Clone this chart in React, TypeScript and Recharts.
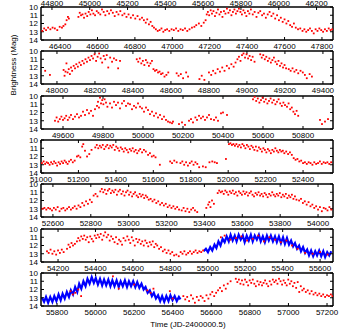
import { ComposedChart, Scatter, Line, XAxis, YAxis } from 'recharts';

// x ranges (JD-2400000.5) of each panel
const panelDomains: [number, number][] = [
  [46298, 47859],
  [47916, 49453],
  [49490, 50950],
  [51000, 52560],
  [52537, 54079],
  [54109, 55669],
  [55717, 57231],
];
// extra labelled axis above the first panel
const firstTopDomain: [number, number] = [44742, 46287];

const topRowTicks = [44800, 45000, 45200, 45400, 45600, 45800, 46000, 46200];
const panelTicks = [
  [46400, 46600, 46800, 47000, 47200, 47400, 47600, 47800],
  [48000, 48200, 48400, 48600, 48800, 49000, 49200, 49400],
  [49600, 49800, 50000, 50200, 50400, 50600, 50800],
  [51000, 51200, 51400, 51600, 51800, 52000, 52200, 52400],
  [52600, 52800, 53000, 53200, 53400, 53600, 53800, 54000],
  [54200, 54400, 54600, 54800, 55000, 55200, 55400, 55600],
  [55800, 56000, 56200, 56400, 56600, 56800, 57000, 57200],
];
const magTicks = [10, 11, 12, 13, 14];

// [JD, mag] ground-based photometry (red)
const p1Red = [
  [46305, 12.9], [46315, 12.6], [46325, 12.8], [46336, 12.5], [46348, 12.7], [46360, 12.5], [46372, 12.6], [46385, 12.8],
  [46398, 12.4], [46410, 12.5], [46418, 12.3], [46428, 12.1], [46435, 11.6], [46442, 11.2], [46447, 11.4],
  [46498, 11.2], [46505, 10.7], [46512, 11.0], [46520, 10.9], [46528, 11.3], [46536, 10.8], [46545, 11.1], [46553, 10.6],
  [46562, 10.9], [46570, 10.4], [46578, 10.8], [46587, 11.0], [46596, 10.5], [46605, 10.7], [46615, 10.9], [46624, 10.3],
  [46633, 10.6], [46642, 11.0], [46652, 10.5], [46662, 10.8], [46672, 10.4], [46682, 10.7], [46692, 11.1], [46702, 10.6],
  [46712, 10.9], [46722, 10.5], [46733, 11.0], [46744, 10.8], [46755, 11.2], [46766, 10.9], [46778, 11.3], [46790, 11.0],
  [46802, 11.4], [46814, 11.1], [46826, 11.5], [46838, 11.3], [46848, 11.6], [46858, 11.9], [46866, 11.5], [46875, 12.1],
  [46884, 11.8], [46893, 12.3], [46902, 12.5], [46912, 12.7], [46922, 12.9], [46932, 12.8], [46942, 12.6], [46952, 13.0],
  [46962, 12.8], [46972, 12.7], [46984, 12.9], [46996, 12.7], [47008, 12.8], [47020, 12.6], [47032, 12.9], [47044, 12.7],
  [47056, 12.8], [47068, 12.6], [47080, 12.9], [47092, 12.7], [47105, 12.5], [47118, 12.4], [47128, 12.2], [47142, 12.0],
  [47155, 12.3], [47168, 11.9], [47178, 11.6], [47184, 10.9], [47190, 10.6], [47197, 11.0], [47205, 10.4], [47212, 10.8],
  [47220, 10.5], [47228, 11.1], [47236, 10.7], [47244, 10.3], [47252, 10.9], [47260, 10.6], [47268, 11.2], [47276, 10.5],
  [47284, 10.8], [47292, 10.2], [47300, 10.7], [47308, 10.4], [47316, 11.0], [47324, 10.6], [47332, 10.3], [47340, 10.8],
  [47348, 10.5], [47356, 10.2], [47364, 10.6], [47372, 10.9], [47380, 10.4], [47388, 10.7], [47396, 11.1], [47404, 10.5],
  [47412, 10.8], [47420, 10.3], [47430, 10.9], [47440, 10.6], [47450, 11.2], [47460, 10.7], [47470, 10.5], [47480, 11.0],
  [47490, 10.8], [47500, 11.3], [47510, 10.9], [47520, 10.6], [47530, 11.1], [47540, 10.8], [47550, 11.4], [47560, 11.0],
  [47570, 11.6], [47580, 11.3], [47590, 11.8], [47600, 11.5], [47610, 12.0], [47620, 11.7], [47630, 12.2], [47640, 12.4],
  [47650, 12.0], [47660, 12.5], [47672, 12.7], [47684, 12.6], [47696, 12.9], [47706, 12.7], [47716, 13.0], [47726, 12.8],
  [47736, 12.6], [47746, 12.9], [47756, 13.2], [47766, 12.7], [47776, 12.9], [47786, 12.6], [47796, 12.8], [47806, 13.0],
  [47816, 12.7], [47826, 12.9], [47836, 12.6], [47846, 12.8], [47855, 12.7],
];

const p2Red = [
  [47938, 12.4], [47963, 12.9], [48035, 12.3], [48040, 13.0], [48045, 12.5], [48050, 11.5], [48056, 12.6], [48062, 12.2],
  [48068, 12.8], [48074, 12.0], [48080, 12.4], [48088, 11.8], [48095, 12.1], [48102, 11.6], [48110, 11.9], [48118, 11.4],
  [48126, 11.7], [48134, 11.2], [48142, 11.5], [48150, 11.0], [48158, 11.3], [48166, 10.8], [48174, 11.1], [48182, 10.6],
  [48190, 10.9], [48198, 10.4], [48206, 11.2], [48214, 10.7], [48222, 10.3], [48230, 10.9], [48238, 11.4], [48246, 10.6],
  [48254, 11.0], [48262, 10.5], [48270, 12.0], [48280, 10.8], [48290, 11.3], [48300, 10.9], [48312, 11.1], [48322, 12.1],
  [48332, 11.2], [48420, 11.0], [48428, 11.3], [48436, 10.9], [48444, 11.5], [48452, 11.2], [48460, 11.7], [48468, 11.1],
  [48476, 11.4], [48484, 11.8], [48492, 11.5], [48500, 11.2], [48508, 12.2], [48516, 12.4], [48524, 12.3], [48532, 12.6],
  [48540, 12.5], [48548, 12.8], [48556, 12.7], [48566, 13.1], [48576, 12.9], [48586, 12.6], [48630, 12.7], [48640, 13.0],
  [48652, 12.8], [48664, 13.3], [48680, 12.6], [48690, 13.1], [48750, 13.4], [48762, 13.0], [48776, 13.5], [48800, 12.6],
  [48812, 12.9], [48822, 12.4], [48834, 12.7], [48846, 12.2], [48858, 12.5], [48870, 12.0], [48882, 12.4], [48894, 11.8],
  [48906, 12.1], [48918, 11.6], [48930, 11.9], [48940, 11.4], [48950, 11.0], [48958, 10.7], [48966, 11.2], [48974, 10.5],
  [48982, 10.3], [48990, 10.8], [48998, 10.4], [49006, 10.9], [49014, 10.6], [49022, 11.1], [49030, 10.7], [49040, 11.3],
  [49070, 10.4], [49078, 10.8], [49086, 10.5], [49094, 11.0], [49102, 10.7], [49110, 11.2], [49118, 10.9], [49126, 11.4],
  [49134, 11.1], [49142, 10.8], [49150, 11.3], [49158, 11.6], [49166, 11.2], [49174, 11.8], [49182, 11.5], [49190, 12.0],
  [49198, 11.7], [49206, 12.1], [49220, 12.2], [49230, 12.4], [49240, 12.1], [49250, 12.5], [49260, 12.3], [49270, 12.7],
  [49282, 12.4], [49294, 12.6], [49305, 12.9], [49315, 13.3], [49330, 12.8], [49342, 13.1],
];

const p3Red = [
  [49560, 13.0], [49568, 12.6], [49576, 13.1], [49584, 12.8], [49592, 12.5], [49600, 12.9], [49608, 12.7], [49616, 12.4],
  [49624, 12.9], [49632, 12.6], [49640, 12.3], [49650, 12.8], [49660, 12.5], [49670, 12.2], [49680, 12.6], [49690, 12.4],
  [49700, 11.9], [49710, 12.3], [49720, 11.7], [49730, 12.1], [49740, 11.8], [49750, 12.4], [49760, 11.6], [49770, 11.2],
  [49775, 10.7], [49780, 11.4], [49785, 10.2], [49790, 10.9], [49796, 10.5], [49802, 11.0], [49808, 10.4], [49815, 10.8],
  [49822, 11.3], [49835, 10.9], [49845, 11.4], [49855, 10.7], [49865, 11.1], [49875, 10.8], [49885, 11.5], [49895, 10.9],
  [49905, 10.6], [49915, 11.2], [49925, 10.9], [49935, 11.0], [49945, 11.6], [49955, 11.2], [49965, 11.4], [49975, 10.9],
  [49985, 11.3], [49995, 11.5], [50005, 11.9], [50015, 11.4], [50025, 11.7], [50035, 12.2], [50045, 11.9], [50055, 12.4],
  [50065, 12.1], [50075, 12.6], [50085, 12.3], [50095, 12.8], [50105, 12.5], [50115, 12.9], [50125, 13.1], [50135, 13.2],
  [50145, 13.3], [50150, 13.1], [50180, 13.4], [50195, 13.2], [50210, 13.5], [50230, 13.0], [50240, 12.8], [50250, 13.2],
  [50262, 12.6], [50270, 12.9], [50280, 12.4], [50290, 12.7], [50300, 12.5], [50310, 12.9], [50320, 12.6], [50330, 12.3],
  [50340, 12.8], [50355, 12.9], [50365, 12.6], [50375, 13.0], [50390, 12.1], [50400, 12.0], [50420, 12.3], [50550, 10.4],
  [50558, 10.1], [50566, 10.6], [50574, 10.3], [50582, 10.8], [50590, 10.5], [50598, 10.2], [50606, 10.7], [50614, 10.4],
  [50622, 10.9], [50630, 10.6], [50638, 10.3], [50646, 10.8], [50654, 10.5], [50662, 11.0], [50670, 10.7], [50678, 10.4],
  [50686, 10.9], [50694, 11.2], [50702, 10.8], [50710, 11.1], [50720, 11.3], [50728, 10.9], [50736, 11.6], [50744, 11.4],
  [50752, 11.9], [50760, 12.2], [50768, 11.8], [50776, 12.4], [50885, 12.9], [50895, 13.4], [50910, 13.1], [50925, 12.8],
];

const p4Red = [
  [51005, 12.8], [51014, 12.6], [51022, 12.9], [51030, 12.7], [51038, 12.8], [51046, 13.0], [51054, 12.7], [51062, 12.9],
  [51070, 12.6], [51078, 12.8], [51086, 13.1], [51094, 12.7], [51102, 12.9], [51110, 12.6], [51118, 12.8], [51126, 12.5],
  [51134, 12.7], [51142, 12.9], [51150, 12.6], [51160, 12.4], [51170, 12.7], [51180, 12.5], [51192, 12.0], [51200, 11.9],
  [51210, 12.1], [51220, 10.8], [51226, 10.5], [51235, 11.3], [51246, 12.0], [51258, 11.7], [51270, 11.2], [51290, 10.9],
  [51298, 10.6], [51306, 11.0], [51314, 10.7], [51322, 10.9], [51330, 10.6], [51338, 11.1], [51346, 10.8], [51354, 10.6],
  [51362, 11.0], [51370, 10.7], [51378, 10.9], [51386, 10.6], [51394, 11.2], [51402, 10.8], [51410, 11.0], [51418, 11.3],
  [51426, 10.9], [51434, 11.1], [51442, 11.4], [51450, 11.0], [51458, 11.2], [51466, 11.5], [51474, 11.1], [51482, 11.3],
  [51490, 11.0], [51498, 11.4], [51506, 11.2], [51514, 11.6], [51522, 11.3], [51530, 11.1], [51540, 11.5], [51550, 11.2],
  [51560, 11.4], [51572, 11.8], [51582, 11.6], [51592, 12.0], [51602, 11.9], [51612, 12.1], [51635, 13.0], [51690, 12.6],
  [51700, 12.8], [51712, 12.5], [51725, 12.7], [51745, 12.8], [51755, 12.6], [51765, 13.0], [51775, 12.7], [51785, 13.1],
  [51795, 12.8], [51805, 12.6], [51815, 13.0], [51825, 12.7], [51835, 12.9], [51845, 13.3], [51865, 13.2], [51880, 13.3],
  [51900, 12.7], [51915, 12.6], [51928, 12.7], [51940, 12.8], [51988, 12.3], [52004, 10.5], [52012, 10.4], [52020, 10.6],
  [52028, 10.5], [52036, 10.7], [52044, 10.5], [52052, 10.8], [52060, 10.6], [52068, 10.9], [52076, 10.5], [52084, 10.7],
  [52092, 11.0], [52100, 10.6], [52108, 10.8], [52116, 11.1], [52124, 10.7], [52132, 10.9], [52140, 11.2], [52148, 10.8],
  [52156, 11.3], [52164, 10.9], [52172, 11.1], [52180, 11.4], [52188, 11.0], [52196, 11.2], [52204, 11.5], [52212, 11.1],
  [52220, 11.3], [52228, 11.6], [52236, 11.2], [52244, 11.4], [52252, 11.0], [52260, 11.3], [52268, 11.5], [52276, 11.2],
  [52284, 11.4], [52292, 11.3], [52300, 11.6], [52310, 11.4], [52320, 11.7], [52330, 11.5], [52340, 11.8], [52350, 12.2],
  [52360, 12.4], [52370, 12.3], [52380, 12.6], [52390, 12.5], [52400, 12.8], [52410, 12.7], [52420, 12.9], [52430, 12.7],
  [52440, 12.8], [52450, 13.0], [52460, 12.7], [52470, 12.9], [52480, 12.8], [52490, 12.6], [52500, 12.9], [52510, 12.7],
  [52520, 12.8], [52530, 12.7], [52540, 12.9], [52550, 12.7],
];

const p5Red = [
  [52545, 13.0], [52555, 12.9], [52565, 13.1], [52575, 12.9], [52585, 13.0], [52595, 13.2], [52605, 12.9], [52615, 13.1],
  [52625, 12.8], [52635, 13.3], [52645, 13.0], [52655, 12.9], [52665, 13.2], [52675, 13.0], [52685, 12.8], [52695, 13.1],
  [52705, 12.9], [52715, 12.7], [52725, 13.0], [52735, 12.6], [52745, 12.8], [52755, 12.3], [52765, 12.6], [52775, 12.1],
  [52785, 12.4], [52795, 11.9], [52805, 12.2], [52815, 11.4], [52825, 11.2], [52835, 11.5], [52850, 10.9], [52858, 10.6],
  [52866, 11.0], [52874, 10.7], [52882, 11.2], [52890, 10.8], [52898, 10.6], [52906, 11.1], [52914, 10.8], [52922, 11.0],
  [52930, 10.7], [52938, 11.3], [52946, 10.9], [52954, 10.7], [52962, 11.2], [52970, 10.9], [52978, 11.4], [52986, 11.0],
  [52994, 10.8], [53002, 11.3], [53010, 11.0], [53018, 11.5], [53026, 11.2], [53034, 11.0], [53042, 11.4], [53050, 11.6],
  [53058, 11.2], [53066, 11.5], [53074, 11.3], [53082, 11.7], [53090, 11.4], [53098, 11.6], [53106, 11.9], [53116, 11.8],
  [53126, 12.1], [53136, 11.9], [53146, 12.3], [53156, 12.1], [53166, 12.5], [53176, 12.3], [53186, 12.6], [53196, 12.4],
  [53206, 12.8], [53216, 12.6], [53226, 12.9], [53236, 12.7], [53246, 13.0], [53256, 12.8], [53266, 13.1], [53280, 13.2],
  [53290, 12.9], [53300, 13.3], [53310, 13.0], [53320, 13.4], [53330, 13.1], [53340, 12.9], [53350, 13.2], [53362, 13.4],
  [53410, 12.9], [53420, 12.5], [53426, 12.2], [53432, 12.8], [53440, 12.0], [53450, 12.4], [53470, 11.1], [53478, 10.8],
  [53486, 11.0], [53494, 10.9], [53502, 11.2], [53510, 10.8], [53518, 11.0], [53526, 11.3], [53534, 10.9], [53542, 11.1],
  [53550, 10.8], [53558, 11.2], [53566, 11.0], [53574, 11.4], [53582, 10.9], [53590, 11.1], [53598, 11.3], [53606, 10.9],
  [53614, 11.2], [53622, 11.0], [53630, 11.4], [53638, 11.1], [53646, 10.9], [53654, 11.3], [53662, 11.5], [53670, 11.1],
  [53678, 11.3], [53686, 11.0], [53694, 11.4], [53702, 11.2], [53710, 11.5], [53718, 11.1], [53726, 11.3], [53734, 11.6],
  [53742, 11.2], [53750, 11.4], [53758, 11.0], [53766, 11.3], [53774, 11.5], [53782, 11.2], [53790, 11.4], [53798, 11.1],
  [53806, 11.6], [53814, 11.3], [53822, 11.5], [53830, 11.2], [53838, 11.7], [53846, 11.4], [53854, 11.6], [53862, 11.3],
  [53870, 11.8], [53878, 11.5], [53886, 11.9], [53900, 12.0], [53910, 11.8], [53920, 12.3], [53930, 12.1], [53940, 12.5],
  [53950, 12.2], [53960, 12.7], [53970, 12.5], [53980, 12.9], [53990, 12.7], [54000, 13.1], [54010, 12.8], [54020, 13.3],
  [54030, 12.9], [54040, 13.0], [54050, 13.2], [54060, 12.8], [54070, 13.1],
];

const p6Red = [
  [54141, 12.7], [54150, 12.9], [54160, 12.5], [54170, 13.0], [54180, 12.7], [54190, 13.1], [54200, 12.6], [54210, 12.9],
  [54220, 12.5], [54230, 12.8], [54248, 12.4], [54256, 11.9], [54264, 12.2], [54272, 11.7], [54280, 12.0], [54290, 11.8],
  [54301, 11.5], [54308, 11.1], [54316, 11.4], [54324, 10.9], [54332, 11.2], [54340, 10.8], [54348, 11.3], [54356, 11.0],
  [54364, 11.6], [54372, 10.9], [54380, 11.2], [54388, 11.5], [54396, 10.8], [54404, 11.1], [54412, 10.7], [54420, 11.0],
  [54428, 10.6], [54436, 11.3], [54444, 10.8], [54452, 10.4], [54460, 11.0], [54468, 10.7], [54476, 11.4], [54484, 10.9],
  [54493, 11.2], [54502, 11.6], [54510, 11.0], [54518, 11.8], [54526, 11.3], [54534, 11.5], [54542, 11.9], [54550, 11.1],
  [54560, 11.4], [54570, 10.9], [54578, 11.3], [54586, 11.7], [54594, 11.0], [54602, 11.4], [54610, 12.0], [54618, 11.2],
  [54626, 11.6], [54634, 11.3], [54642, 11.8], [54650, 11.5], [54658, 12.0], [54666, 11.4], [54674, 11.7], [54682, 12.1],
  [54690, 11.6], [54698, 11.9], [54706, 11.5], [54714, 12.2], [54722, 11.8], [54730, 12.0], [54740, 12.4], [54750, 12.2],
  [54760, 12.7], [54770, 12.5], [54780, 12.9], [54790, 12.6], [54800, 13.0], [54810, 12.8], [54820, 13.2], [54832, 13.1],
  [54845, 13.3], [54855, 12.8], [54865, 13.0], [54875, 12.7], [54885, 13.1], [54895, 12.9], [54905, 12.7], [54915, 13.0],
  [54925, 12.8], [54935, 12.6], [54945, 12.9], [54955, 12.7], [54965, 12.8], [54975, 12.6], [55070, 11.0], [55090, 10.8],
  [55120, 11.3], [55150, 11.1], [55180, 10.9], [55210, 11.4], [55240, 11.2], [55270, 10.8], [55300, 11.5], [55330, 11.0],
  [55360, 11.3], [55390, 11.6], [55420, 11.4], [55450, 12.0], [55480, 12.4], [55520, 12.9], [55560, 13.0], [55600, 12.8],
  [55640, 13.1],
];

const p7Red = [
  [55870, 12.2], [55882, 12.6], [55895, 12.4], [55910, 12.0], [55925, 12.8], [56090, 10.4], [56120, 11.9], [56200, 11.4],
  [56268, 12.1], [56285, 12.4], [56300, 11.9], [56385, 12.2], [56400, 13.1], [56455, 12.8], [56465, 13.2], [56475, 12.9],
  [56485, 13.4], [56495, 12.7], [56505, 13.1], [56515, 13.6], [56525, 12.9], [56535, 13.3], [56545, 12.8], [56555, 13.0],
  [56565, 13.4], [56575, 12.7], [56585, 13.1], [56595, 12.6], [56605, 12.3], [56615, 12.8], [56625, 12.4], [56635, 12.1],
  [56645, 11.8], [56655, 12.2], [56665, 11.5], [56675, 11.9], [56685, 11.3], [56700, 11.0], [56727, 10.7], [56735, 11.1],
  [56743, 10.8], [56751, 11.3], [56759, 10.9], [56767, 11.4], [56775, 10.8], [56783, 11.1], [56791, 11.5], [56799, 10.9],
  [56807, 11.2], [56815, 10.8], [56823, 11.3], [56831, 11.6], [56839, 11.0], [56847, 11.4], [56855, 11.1], [56863, 11.5],
  [56871, 11.2], [56879, 10.9], [56887, 11.3], [56895, 11.6], [56903, 11.0], [56911, 11.4], [56919, 10.8], [56927, 11.1],
  [56935, 10.9], [56943, 11.3], [56951, 10.7], [56959, 11.0], [56967, 11.4], [56975, 10.9], [56983, 11.2], [56991, 11.5],
  [56999, 10.8], [57007, 11.3], [57015, 11.0], [57023, 11.6], [57031, 11.2], [57040, 11.8], [57048, 11.1], [57056, 12.3],
  [57064, 11.6], [57072, 12.1], [57080, 11.9], [57090, 12.3], [57100, 12.1], [57110, 12.5], [57120, 12.2], [57130, 12.6],
  [57140, 12.4], [57150, 12.7], [57160, 12.5], [57170, 12.8], [57180, 12.6], [57190, 12.9], [57200, 12.7], [57210, 12.8],
  [57220, 12.6], [57228, 12.8],
];

// [JD, mag] dense space photometry (blue)
const p6Blue = [
  [54978, 12.7], [54990, 12.4], [55001, 12.8], [55013, 12.2], [55024, 12.6], [55036, 11.9], [55046, 12.3], [55057, 11.5],
  [55068, 12.0], [55079, 11.2], [55090, 11.6], [55101, 10.9], [55112, 11.5], [55122, 10.7], [55133, 11.4], [55144, 10.8],
  [55154, 11.5], [55165, 10.7], [55176, 11.3], [55187, 10.8], [55197, 11.6], [55208, 10.8], [55219, 11.4], [55230, 10.7],
  [55240, 11.5], [55251, 10.8], [55262, 11.3], [55273, 10.7], [55283, 11.5], [55294, 10.9], [55305, 11.6], [55316, 10.8],
  [55326, 11.4], [55337, 10.8], [55348, 11.5], [55359, 10.9], [55369, 11.6], [55380, 10.9], [55391, 11.7], [55402, 11.0],
  [55412, 11.8], [55423, 11.1], [55434, 11.9], [55445, 11.4], [55456, 12.1], [55466, 11.7], [55477, 12.4], [55488, 12.0],
  [55498, 12.7], [55509, 12.2], [55520, 12.9], [55531, 12.5], [55541, 13.2], [55552, 12.6], [55563, 13.3], [55574, 12.7],
  [55584, 13.2], [55595, 12.6], [55606, 13.3], [55617, 12.7], [55627, 13.4], [55638, 12.8], [55649, 13.2], [55660, 12.7],
];

const p7Blue = [
  [55722, 13.0], [55733, 13.5], [55743, 12.9], [55754, 13.6], [55765, 12.9], [55776, 13.5], [55786, 12.8], [55797, 13.4],
  [55808, 12.6], [55819, 13.3], [55829, 12.5], [55840, 13.1], [55851, 12.3], [55862, 12.9], [55872, 12.1], [55883, 12.6],
  [55894, 11.7], [55905, 12.3], [55915, 11.3], [55926, 11.9], [55937, 11.0], [55948, 11.6], [55958, 10.7], [55969, 11.3],
  [55980, 10.5], [55991, 11.2], [56001, 10.6], [56012, 11.4], [56023, 10.7], [56034, 11.5], [56044, 10.8], [56055, 11.5],
  [56066, 10.8], [56077, 11.6], [56087, 10.9], [56098, 11.6], [56109, 10.9], [56120, 11.7], [56130, 11.0], [56141, 11.6],
  [56152, 10.9], [56163, 11.7], [56173, 11.0], [56184, 11.6], [56195, 11.0], [56206, 11.7], [56216, 11.1], [56227, 11.8],
  [56238, 11.3], [56249, 12.0], [56259, 11.7], [56270, 12.4], [56281, 12.1], [56292, 12.8], [56302, 12.4], [56313, 13.1],
  [56324, 12.7], [56335, 13.4], [56345, 12.8], [56356, 13.5], [56367, 12.8], [56378, 13.4], [56388, 12.7], [56399, 13.3],
  [56410, 12.8], [56421, 13.4], [56432, 12.9], [56440, 13.2],
];

const redSets = [p1Red, p2Red, p3Red, p4Red, p5Red, p6Red, p7Red];
const blueSets: (number[][] | null)[] = [null, null, null, null, null, p6Blue, p7Blue];

const toPts = (arr: number[][]) => arr.map(([jd, mag]) => ({ jd, mag }));

const FONT = '"Liberation Sans", Arial, sans-serif';
const tickStyle = { fontSize: 8, fill: '#000', fontFamily: FONT };
const axisLine = { stroke: '#000', strokeWidth: 1.5 };
const tickLine = { stroke: '#000', strokeWidth: 1 };
const blank = () => '';

const RedDot = (props: any) => {
  const { cx, cy } = props;
  if (cx == null || cy == null) return null;
  return <rect x={cx - 0.9} y={cy - 0.9} width={1.8} height={1.8} fill="#ff0000" />;
};

function Panel({ index }: { index: number }) {
  const top = 7 + index * 44.3;
  const isFirst = index === 0;
  const blue = blueSets[index];
  return (
    <div style={{ position: 'absolute', left: 0, top: top - 12, width: 356, height: 57 }}>
      <ComposedChart width={356} height={57} margin={{ top: 11, right: 22, bottom: 11, left: 40 }}>
        <XAxis
          xAxisId="b"
          type="number"
          dataKey="jd"
          orientation="bottom"
          domain={panelDomains[index]}
          allowDataOverflow
          ticks={panelTicks[index]}
          interval={0}
          height={1}
          tickSize={-3}
          tickMargin={6}
          tick={tickStyle}
          axisLine={axisLine}
          tickLine={tickLine}
        />
        <XAxis
          xAxisId="t"
          type="number"
          dataKey="jd"
          orientation="top"
          domain={isFirst ? firstTopDomain : panelDomains[index]}
          allowDataOverflow
          ticks={isFirst ? topRowTicks : panelTicks[index]}
          interval={0}
          height={1}
          tickSize={-3}
          tickMargin={4}
          tick={tickStyle}
          tickFormatter={isFirst ? undefined : blank}
          axisLine={axisLine}
          tickLine={tickLine}
        />
        <YAxis
          yAxisId="l"
          type="number"
          dataKey="mag"
          domain={[10, 14]}
          reversed
          allowDataOverflow
          ticks={magTicks}
          interval={0}
          width={1}
          tickSize={-3}
          tickMargin={6}
          tick={tickStyle}
          axisLine={axisLine}
          tickLine={tickLine}
        />
        <YAxis
          yAxisId="r"
          orientation="right"
          type="number"
          dataKey="mag"
          domain={[10, 14]}
          reversed
          allowDataOverflow
          ticks={magTicks}
          interval={0}
          width={1}
          tickSize={-3}
          tickFormatter={blank}
          tick={tickStyle}
          axisLine={axisLine}
          tickLine={tickLine}
        />
        <Scatter
          xAxisId="b"
          yAxisId="l"
          data={toPts(redSets[index])}
          shape={RedDot}
          isAnimationActive={false}
        />
        {blue && (
          <Line
            xAxisId="b"
            yAxisId="l"
            data={toPts(blue)}
            dataKey="mag"
            type="linear"
            stroke="#0000ff"
            strokeWidth={2.2}
            dot={false}
            activeDot={false}
            isAnimationActive={false}
          />
        )}
      </ComposedChart>
    </div>
  );
}

export default function App() {
  return (
    <div
      style={{
        position: 'absolute',
        left: 0,
        top: 0,
        width: 356,
        height: 329,
        background: '#fff',
        overflow: 'hidden',
      }}
    >
      {redSets.map((_, i) => (
        <Panel key={i} index={i} />
      ))}
      <svg width={356} height={329} style={{ position: 'absolute', left: 0, top: 0, pointerEvents: 'none' }}>
        <text
          x={0}
          y={0}
          transform="translate(16 65) rotate(-90)"
          textAnchor="middle"
          fontSize={8}
          fontFamily={FONT}
          fill="#000"
        >
          Brightness (Mag)
        </text>
        <text x={188} y={327} textAnchor="middle" fontSize={8} fontFamily={FONT} fill="#000">
          Time (JD-2400000.5)
        </text>
      </svg>
    </div>
  );
}
